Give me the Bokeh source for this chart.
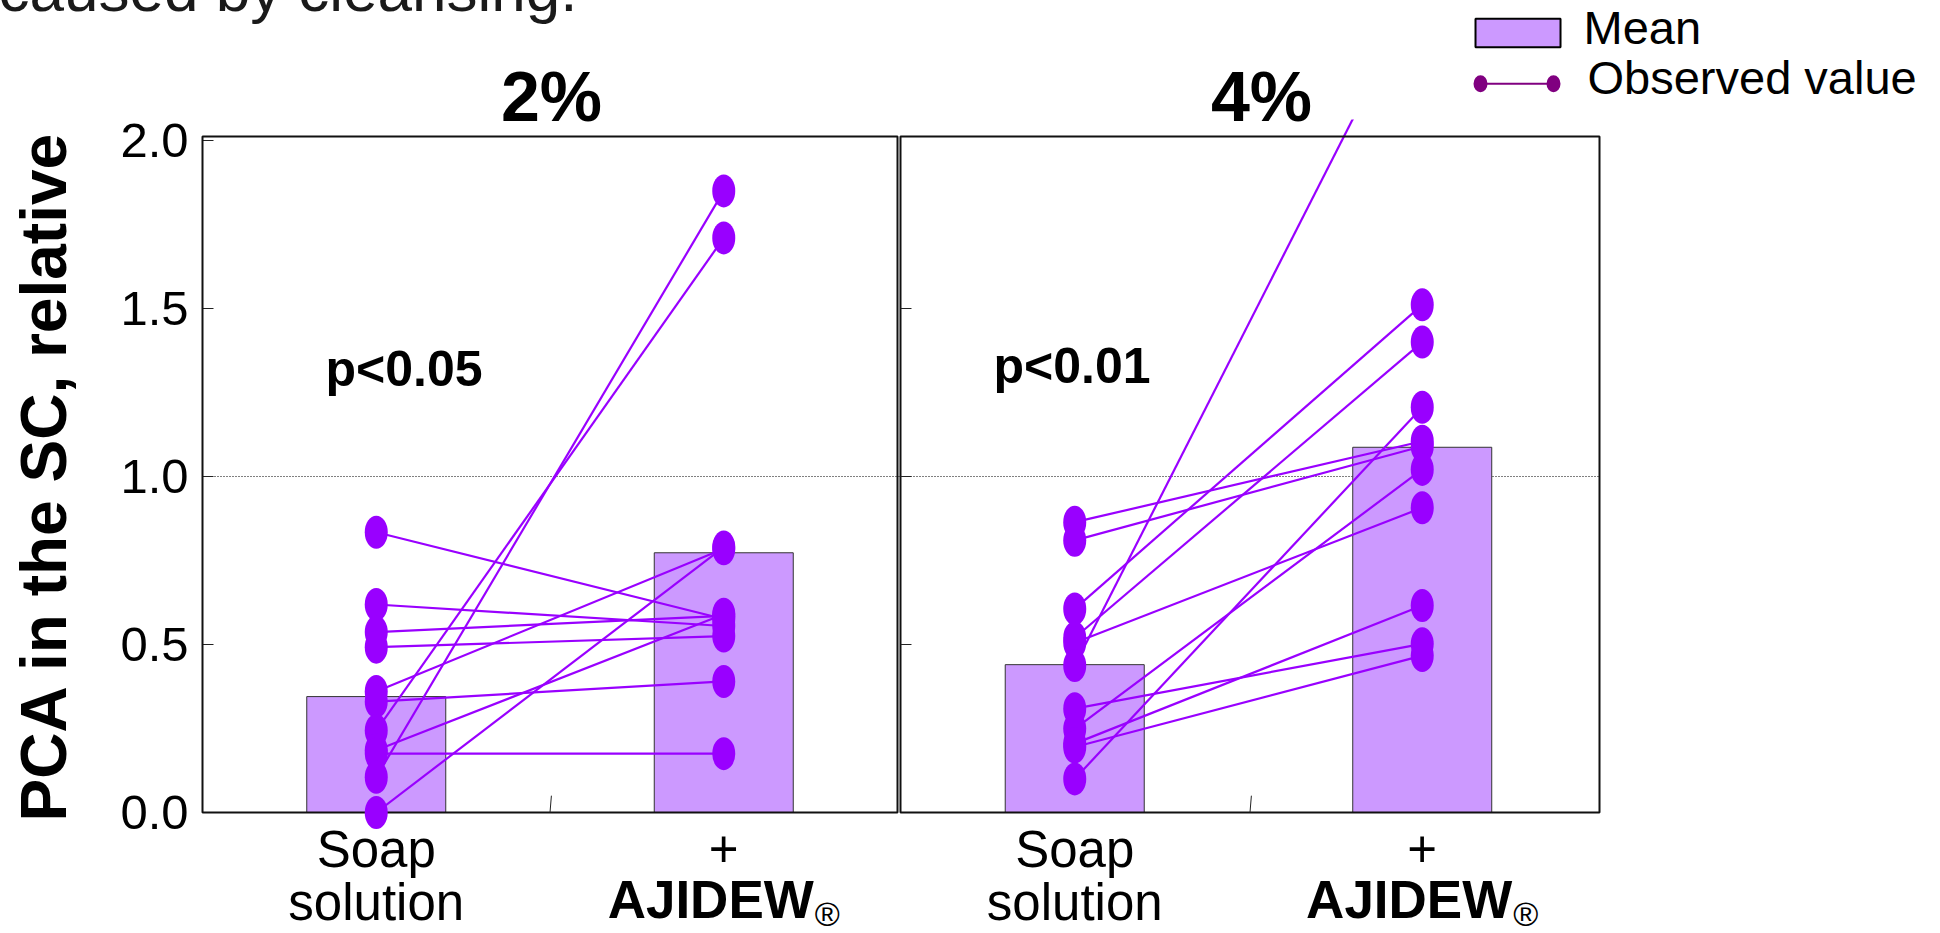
import math
from bokeh.plotting import figure
from bokeh.models import Range1d, FixedTicker, Span
from bokeh.core.properties import value
from bokeh.embed import file_html
from bokeh.resources import INLINE

# ---------------- data ----------------
panels = ["2%", "4%"]
p_values = ["p<0.05", "p<0.01"]
cat_top = ["Soap", "+"]
cat_bottom = ["solution", "AJIDEW"]

mean_2 = [0.345, 0.773]
mean_4 = [0.44, 1.087]

soap_2 = [0.834, 0.619, 0.537, 0.492, 0.36, 0.33, 0.244, 0.185, 0.175, 0.105, 0.0]
ajidew_2 = [0.576, 0.555, 0.585, 0.525, 0.785, 0.39, 1.71, 0.59, 0.175, 1.85, 0.79]

soap_4 = [0.864, 0.81, 0.606, 0.52, 0.505, 0.4375, 0.309, 0.249, 0.205, 0.195, 0.10]
ajidew_4 = [1.105, 1.09, 1.511, 1.40, 0.907, 2.47, 0.502, 1.021, 0.616, 0.467, 1.206]

yticks = [0.0, 0.5, 1.0, 1.5, 2.0]
ytick_labels = ["0.0", "0.5", "1.0", "1.5", "2.0"]

# ---------------- layout / style ----------------
BAR_FILL = "#CC99FF"
PT = "#9900FF"
LEG_PT = "#800080"
FONT = "Liberation Sans"

panel_offset = [0.0, 2.01]          # panel start in x units
slot = [0.5, 1.5]                   # category slot inside a panel
panel_left = [0.0, 2.0086]
panel_right = [2.0, 4.0201]
panel_top = 2.012

X_END = 4.0201
Y_END = 2.0625

W, H = 1940, 933
p = figure(width=W, height=H, x_range=Range1d(0, X_END), y_range=Range1d(0, Y_END),
           x_axis_type=None, output_backend="svg", toolbar_location=None,
           min_border_left=202, min_border_right=341, min_border_top=119, min_border_bottom=121)
p.outline_line_color = None
p.grid.visible = False
p.background_fill_color = "white"
p.border_fill_color = "white"

# conversion helpers for annotation placement (pixel -> data units)
def dx(px):
    return (px - 202.0) / 347.5

def dy(py):
    return (812.0 - py) / 336.0

def pxw(n):
    return n / 347.5

K = 0.375  # baseline correction of the text glyph (fraction of font size)

def txt(x_px, base_px, s, size, bold=False, align="left", color="black"):
    """x_px / base_px are pixel positions of the anchor and the text baseline."""
    r = p.text(x=[dx(x_px)], y=[dy(base_px - K * size)], text=[s], text_font=value(FONT),
               text_font_size=value(f"{size}px"),
               text_font_style=value("bold" if bold else "normal"),
               text_align=value(align), text_baseline=value("alphabetic"), text_color=color)
    r.level = "overlay"
    return r

# y axis
ax = p.yaxis[0]
ax.ticker = FixedTicker(ticks=yticks)
ax.major_label_overrides = {t: l for t, l in zip(yticks, ytick_labels)}
ax.major_tick_in = 11
ax.major_tick_out = 0
ax.minor_tick_line_color = None
ax.axis_line_color = None
ax.major_tick_line_color = "#222222"
ax.major_label_text_font = FONT
ax.major_label_text_font_size = "49px"
ax.major_label_text_color = "black"
ax.major_label_standoff = 14

# dotted reference line at 1.0
p.add_layout(Span(location=1.0, dimension="width", line_color="black",
                  line_width=1, line_dash="1 2", level="underlay"))

panel_data = [(mean_2, soap_2, ajidew_2), (mean_4, soap_4, ajidew_4)]

for i, (means, soap, ajidew) in enumerate(panel_data):
    off = panel_offset[i]
    xs = [off + s for s in slot]
    # mean bars
    p.vbar(x=xs, top=means, width=0.4, bottom=0, fill_color=BAR_FILL,
           line_color="#333333", line_width=1)
    # paired lines
    p.segment(x0=[xs[0]] * len(soap), y0=soap, x1=[xs[1]] * len(ajidew), y1=ajidew,
              line_color=PT, line_width=2.2)

for i in range(2):
    # panel frames
    r = p.quad(left=[panel_left[i]], right=[panel_right[i]], bottom=[0], top=[panel_top],
               fill_color=None, line_color="#111111", line_width=2)
    r.level = "overlay"
    # centre tick at the bottom of each panel
    cx = (panel_left[i] + panel_right[i]) / 2
    r = p.segment(x0=[cx], y0=[0], x1=[cx + 0.004], y1=[0.05], line_color="#222222", line_width=1)
    r.level = "overlay"

# inner ticks at the left edge of panel 2
r = p.segment(x0=[panel_left[1]] * 3, y0=[0.5, 1.0, 1.5], x1=[panel_left[1] + pxw(11)] * 3,
              y1=[0.5, 1.0, 1.5], line_color="#222222", line_width=1)
r.level = "overlay"

# observed points
for i, (means, soap, ajidew) in enumerate(panel_data):
    off = panel_offset[i]
    xs = [off + s for s in slot]
    r = p.ellipse(x=[xs[0]] * len(soap) + [xs[1]] * len(ajidew), y=soap + ajidew,
                  width=23, height=33, width_units="screen", height_units="screen",
                  fill_color=PT, line_color=None)
    r.level = "overlay"

# ---------------- texts ----------------
txt(-2, 12, "caused by cleansing.", 62, color="#1a1a1a")

# rotated y-axis title (baseline is vertical, on the right side of the glyphs)
r = p.text(x=[dx(68 - K * 64)], y=[dy(476)], text=["PCA in the SC, relative"],
           angle=math.pi / 2, text_font=value(FONT), text_font_size=value("64px"),
           text_font_style=value("bold"), text_align=value("center"),
           text_baseline=value("alphabetic"), text_color="black")
r.level = "overlay"

title_x = [551, 1261]
pval_x = [325, 993]
pval_base = [387, 384]
for i in range(2):
    txt(title_x[i], 123, panels[i], 70, bold=True, align="center")
    txt(pval_x[i], pval_base[i], p_values[i], 50, bold=True)
    off = panel_offset[i]
    cx0 = 202 + (off + slot[0]) * 347.5
    cx1 = 202 + (off + slot[1]) * 347.5
    txt(cx0, 868, cat_top[0], 51, align="center")
    txt(cx0, 921, cat_bottom[0], 51, align="center")
    txt(cx1, 868, cat_top[1], 51, align="center")
    txt(cx1 + 90, 919, cat_bottom[1], 53, bold=True, align="right")
    txt(cx1 + 91, 926, "\u00ae", 34)

# ---------------- legend ----------------
r = p.quad(left=[dx(1475)], right=[dx(1560)], bottom=[dy(46.7)], top=[dy(18.3)],
           fill_color=BAR_FILL, line_color="black", line_width=2)
r.level = "overlay"
r = p.segment(x0=[dx(1480)], y0=[dy(83.3)], x1=[dx(1553)], y1=[dy(83.3)],
              line_color=LEG_PT, line_width=2)
r.level = "overlay"
r = p.ellipse(x=[dx(1480), dx(1553)], y=[dy(83.3)] * 2, width=14, height=17,
              width_units="screen", height_units="screen", fill_color=LEG_PT, line_color=None)
r.level = "overlay"
txt(1583, 44.3, "Mean", 47)
txt(1587, 95, "Observed value", 47)

open("out.html", "w").write(file_html(p, INLINE))
